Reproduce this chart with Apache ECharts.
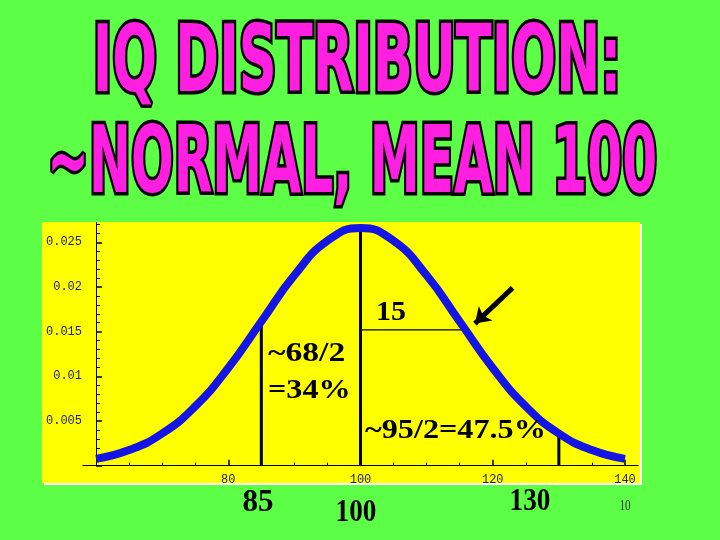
<!DOCTYPE html>
<html>
<head>
<meta charset="utf-8">
<script src="https://cdn.jsdelivr.net/npm/echarts@6/dist/echarts.min.js"></script>
<style>
html, body { margin: 0; padding: 0; background: #5cff46; }
#main { width: 720px; height: 540px; }
</style>
</head>
<body>
<div id="main"></div>
<script>
// IQ values and the density
var iqValues = [60, 65, 70, 75, 80, 85, 90, 95, 100, 105, 110, 115, 120, 125, 130, 135, 140];
var densityValues = [0.00076, 0.00175, 0.0036, 0.00664, 0.01093, 0.01613, 0.0213, 0.02516, 0.0266,
    0.02516, 0.0213, 0.01613, 0.01093, 0.00664, 0.0036, 0.00175, 0.00076];

var majorTicksX = [80, 100, 120, 140];
var minorTicksX = [65, 70, 75, 85, 90, 95, 105, 110, 115, 125, 130, 135];
var minorTicksY = [0.001, 0.002, 0.003, 0.004, 0.006, 0.007, 0.008, 0.009, 0.011, 0.012, 0.013, 0.014,
    0.016, 0.017, 0.018, 0.019, 0.021, 0.022, 0.023, 0.024, 0.026, 0.027];

// vertical guides: x position and height
var guideX = [85, 100, 130];
var guideTop = [0.0159, 0.0266, 0.0036];
// the "15" width line and the arrow
var sdLine = [[100, 0.0152], [115.4, 0.0152]];
var arrowLine = [[123, 0.0199], [117.3, 0.0159]];

var titleFont = '"Liberation Sans Narrow", "DejaVu Sans Condensed", sans-serif';
var serif = '"Liberation Serif", "Times New Roman", serif';
var mono = '"Liberation Mono", "DejaVu Sans Mono", monospace';

var myChart = echarts.init(document.getElementById('main'));

var series = [{
    type: 'line',
    data: iqValues.map(function (x, i) { return [x, densityValues[i]]; }),
    smooth: true,
    symbol: 'none',
    lineStyle: { color: '#1414e6', width: 8 },
    z: 5,
    silent: true
}];
guideX.forEach(function (x, i) {
    series.push({
        type: 'line',
        data: [[x, 0], [x, guideTop[i]]],
        symbol: 'none',
        lineStyle: { color: '#000', width: 3 },
        z: 3,
        silent: true
    });
});
series.push({
    type: 'line',
    data: sdLine,
    symbol: 'none',
    lineStyle: { color: '#000', width: 1.2 },
    z: 3,
    silent: true
});
series.push({
    type: 'lines',
    coordinateSystem: 'cartesian2d',
    data: [{ coords: arrowLine }],
    symbol: ['none', 'arrow'],
    symbolSize: 15,
    lineStyle: { color: '#000', width: 5, opacity: 1 },
    z: 6,
    silent: true
});

function txt(text, x, y, size, opts) {
    opts = opts || {};
    return {
        type: 'text',
        x: x, y: y,
        scaleX: opts.scaleX || 1,
        z: 100,
        style: {
            text: text,
            fontFamily: opts.family || serif,
            fontWeight: opts.weight || 'bold',
            fontSize: size,
            fill: opts.fill || '#000',
            textAlign: opts.align || 'left',
            textVerticalAlign: 'middle'
        }
    };
}

function titleText(text, x, y, sx) {
    return {
        type: 'text',
        x: x, y: y,
        scaleX: sx,
        z: 100,
        style: {
            text: text,
            fontFamily: titleFont,
            fontWeight: 'bold',
            fontSize: 93,
            fill: '#ff1fe0',
            stroke: '#000',
            lineWidth: 7,
            strokeFirst: true,
            textAlign: 'center',
            textVerticalAlign: 'middle',
            shadowColor: '#3a0000',
            shadowOffsetX: 3,
            shadowOffsetY: 3
        }
    };
}

myChart.setOption({
    backgroundColor: '#5cff46',
    animation: false,
    grid: { left: 82.8, right: 81.8, top: 222.6, bottom: 74.3 },
    xAxis: [{
        type: 'value', min: 58, max: 142, position: 'bottom',
        axisLine: { show: true, onZero: false, lineStyle: { color: '#000', width: 1 } },
        axisTick: { show: true, inside: true, length: 6, customValues: majorTicksX, lineStyle: { color: '#000', width: 1.5 } },
        axisLabel: { customValues: majorTicksX, margin: 8, color: '#1c1c70', fontFamily: mono, fontSize: 12 },
        splitLine: { show: false }
    }, {
        type: 'value', min: 58, max: 142, position: 'bottom',
        axisLine: { show: false },
        axisTick: { show: true, inside: true, length: 3, customValues: minorTicksX, lineStyle: { color: '#000', width: 1 } },
        axisLabel: { show: false },
        splitLine: { show: false }
    }],
    yAxis: [{
        type: 'value', min: 0, max: 0.0272, interval: 0.005, position: 'left', offset: -13.2,
        axisLine: { show: true, onZero: false, lineStyle: { color: '#000', width: 1 } },
        axisTick: { show: true, inside: true, length: 6, lineStyle: { color: '#000', width: 1.5 } },
        axisLabel: {
            margin: 14, color: '#1c1c70', fontFamily: mono, fontSize: 12,
            showMaxLabel: false,
            formatter: function (v) { return v === 0 ? '' : String(+v.toFixed(3)); }
        },
        splitLine: { show: false }
    }, {
        type: 'value', min: 0, max: 0.0272, position: 'left', offset: -13.2,
        axisLine: { show: false },
        axisTick: { show: true, inside: true, length: 4, customValues: minorTicksY, lineStyle: { color: '#000', width: 1 } },
        axisLabel: { show: false },
        splitLine: { show: false }
    }],
    series: series,
    graphic: [
        { type: 'rect', z: -20, shape: { x: 44, y: 224, width: 598, height: 261 }, style: { fill: '#ffffff' } },
        { type: 'rect', z: -10, shape: { x: 42, y: 222, width: 598, height: 261 }, style: { fill: '#ffff00' } },
        titleText('IQ DISTRIBUTION:', 357, 67, 0.63),
        titleText('~NORMAL, MEAN 100', 352, 168, 0.6),
        txt('15', 376, 313, 28, { scaleX: 1.07 }),
        txt('~68/2', 268, 354, 28, { scaleX: 1.2 }),
        txt('=34%', 268, 391, 28, { scaleX: 1.15 }),
        txt('~95/2=47.5%', 365, 431, 28, { scaleX: 1.15 }),
        txt('85', 258, 503, 31, { align: 'center' }),
        txt('100', 356, 513, 32, { align: 'center', scaleX: 0.85 }),
        txt('130', 530, 502, 32, { align: 'center', scaleX: 0.85 }),
        txt('10', 625, 506, 14, { align: 'center', weight: 'normal', scaleX: 0.8, fill: '#333' })
    ]
});
</script>
</body>
</html>
